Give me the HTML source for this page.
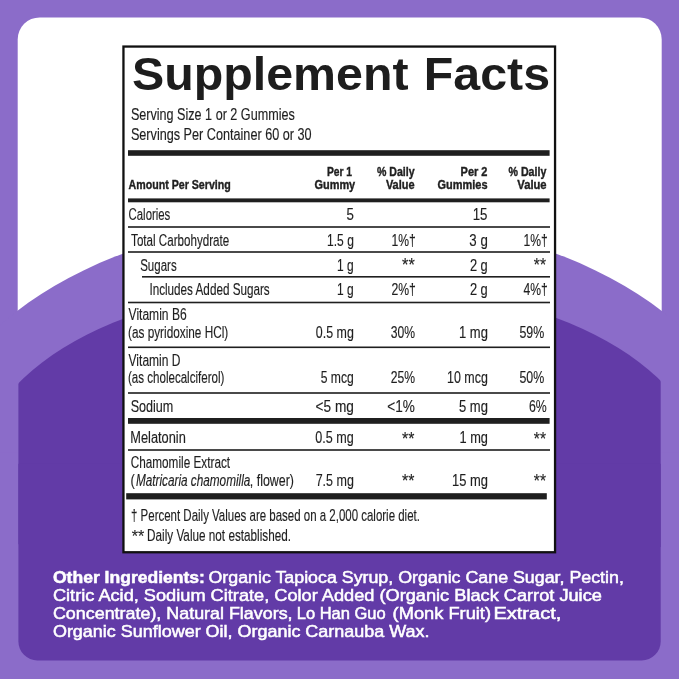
<!DOCTYPE html>
<html lang="en">
<head>
<meta charset="utf-8">
<title>Supplement Facts</title>
<style>
html,body{margin:0;padding:0;background:#8b6cc9;}
body{width:679px;height:679px;overflow:hidden;}
svg{display:block;}
text{font-family:"Liberation Sans",sans-serif;fill:#1f1f1f;white-space:pre;}
.b{font-weight:bold;}
.i{font-style:italic;}
</style>
</head>
<body>
<svg width="679" height="679" viewBox="0 0 679 679">
<rect width="679" height="679" fill="#8b6cc9"/>
<defs><clipPath id="card"><rect x="18.4" y="17.5" width="642.3" height="642.9" rx="19" ry="19"/></clipPath></defs>
<rect x="17.7" y="17.4" width="644" height="643" rx="22" ry="22" fill="#fff"/>
<ellipse cx="339.5" cy="452.1" rx="402.7" ry="235.4" fill="#8b6cc9"/><rect x="0" y="452.1" width="679" height="230" fill="#8b6cc9"/>
<g clip-path="url(#card)"><ellipse cx="340.8" cy="463.8" rx="359.2" ry="182.35" fill="#623ba7"/><rect x="0" y="463.8" width="679" height="220" fill="#623ba7"/></g>
<rect x="123.45" y="46.55" width="431.6" height="505.7" fill="#fff" stroke="#111" stroke-width="2.3"/>
<rect x="128" y="150.2" width="421.60" height="5.60" fill="#1f1f1f"/>
<rect x="128" y="198.4" width="421.60" height="3.90" fill="#1f1f1f"/>
<rect x="128" y="226.2" width="422.00" height="1.60" fill="#1f1f1f"/>
<rect x="128" y="251.2" width="422.00" height="1.60" fill="#1f1f1f"/>
<rect x="142" y="276.0" width="408.00" height="1.60" fill="#1f1f1f"/>
<rect x="128" y="301.7" width="422.00" height="1.60" fill="#1f1f1f"/>
<rect x="128" y="346.5" width="422.00" height="1.60" fill="#1f1f1f"/>
<rect x="128" y="392.2" width="422.00" height="1.60" fill="#1f1f1f"/>
<rect x="128" y="449.2" width="422.00" height="1.60" fill="#1f1f1f"/>
<rect x="128" y="418" width="421.60" height="5.80" fill="#1f1f1f"/>
<rect x="126.2" y="493.2" width="420.60" height="6.20" fill="#1f1f1f"/>
<g>
<text class="b" font-size="46" transform="translate(132.09 90.00) scale(1.0501 1.0000)" style="fill:#1d1d1d">Supplement</text>
<text class="b" font-size="46" transform="translate(423.85 90.00) scale(1.0499 1.0000)" style="fill:#1d1d1d">Facts</text>
<text class="r" font-size="15.8" transform="translate(130.90 119.80) scale(0.7980 1.0000)" style="stroke:#1f1f1f;stroke-width:0.15">Serving Size 1 or 2 Gummies</text>
<text class="r" font-size="15.8" transform="translate(130.90 140.00) scale(0.8016 1.0000)" style="stroke:#1f1f1f;stroke-width:0.15">Servings Per Container 60 or 30</text>
<text class="b" font-size="12.7" transform="translate(128.54 188.75) scale(0.8385 1.0000)" style="stroke:#1f1f1f;stroke-width:0.4">Amount Per Serving</text>
<text class="b" font-size="12.7" transform="translate(326.89 175.60) scale(0.8100 1.0000)" style="stroke:#1f1f1f;stroke-width:0.4">Per 1</text>
<text class="b" font-size="12.7" transform="translate(314.47 188.70) scale(0.8624 1.0000)" style="stroke:#1f1f1f;stroke-width:0.4">Gummy</text>
<text class="b" font-size="12.7" transform="translate(376.99 175.60) scale(0.8335 1.0000)" style="stroke:#1f1f1f;stroke-width:0.4">% Daily</text>
<text class="b" font-size="12.7" transform="translate(385.88 188.70) scale(0.8646 1.0000)" style="stroke:#1f1f1f;stroke-width:0.4">Value</text>
<text class="b" font-size="12.7" transform="translate(460.60 175.60) scale(0.8655 1.0000)" style="stroke:#1f1f1f;stroke-width:0.4">Per 2</text>
<text class="b" font-size="12.7" transform="translate(437.57 188.70) scale(0.8634 1.0000)" style="stroke:#1f1f1f;stroke-width:0.4">Gummies</text>
<text class="b" font-size="12.7" transform="translate(508.54 175.60) scale(0.8380 1.0000)" style="stroke:#1f1f1f;stroke-width:0.4">% Daily</text>
<text class="b" font-size="12.7" transform="translate(517.28 188.70) scale(0.8846 1.0000)" style="stroke:#1f1f1f;stroke-width:0.4">Value</text>
<text class="r" font-size="15.8" transform="translate(128.56 219.70) scale(0.7207 1.0000)" style="stroke:#1f1f1f;stroke-width:0.15">Calories</text>
<text class="r" font-size="15.8" transform="translate(346.57 219.70) scale(0.8414 1.0000)" style="stroke:#1f1f1f;stroke-width:0.15">5</text>
<text class="r" font-size="15.8" transform="translate(472.70 219.70) scale(0.8413 1.0000)" style="stroke:#1f1f1f;stroke-width:0.15">15</text>
<text class="r" font-size="15.8" transform="translate(131.07 245.50) scale(0.7358 1.0000)" style="stroke:#1f1f1f;stroke-width:0.15">Total Carbohydrate</text>
<text class="r" font-size="15.8" transform="translate(327.05 245.50) scale(0.7634 1.0000)" style="stroke:#1f1f1f;stroke-width:0.15">1.5 g</text>
<text class="r" font-size="15.8" transform="translate(391.54 245.50) scale(0.7692 1.0000)" style="stroke:#1f1f1f;stroke-width:0.15">1%†</text>
<text class="r" font-size="15.8" transform="translate(469.37 245.50) scale(0.8395 1.0000)" style="stroke:#1f1f1f;stroke-width:0.15">3 g</text>
<text class="r" font-size="15.8" transform="translate(523.54 245.50) scale(0.7692 1.0000)" style="stroke:#1f1f1f;stroke-width:0.15">1%†</text>
<text class="r" font-size="15.8" transform="translate(140.20 270.50) scale(0.7282 1.0000)" style="stroke:#1f1f1f;stroke-width:0.15">Sugars</text>
<text class="r" font-size="15.8" transform="translate(337.05 270.50) scale(0.7595 1.0000)" style="stroke:#1f1f1f;stroke-width:0.15">1 g</text>
<text class="r" font-size="20" transform="translate(402.09 271.03) scale(0.8136 0.8929)" style="stroke:#1f1f1f;stroke-width:0.15">**</text>
<text class="r" font-size="15.8" transform="translate(469.89 270.50) scale(0.8148 1.0000)" style="stroke:#1f1f1f;stroke-width:0.15">2 g</text>
<text class="r" font-size="20" transform="translate(533.86 271.03) scale(0.7797 0.8929)" style="stroke:#1f1f1f;stroke-width:0.15">**</text>
<text class="r" font-size="15.8" transform="translate(149.39 295.20) scale(0.7414 1.0000)" style="stroke:#1f1f1f;stroke-width:0.15">Includes Added Sugars</text>
<text class="r" font-size="15.8" transform="translate(337.05 295.20) scale(0.7595 1.0000)" style="stroke:#1f1f1f;stroke-width:0.15">1 g</text>
<text class="r" font-size="15.8" transform="translate(391.42 295.20) scale(0.7731 1.0000)" style="stroke:#1f1f1f;stroke-width:0.15">2%†</text>
<text class="r" font-size="15.8" transform="translate(469.89 295.20) scale(0.8148 1.0000)" style="stroke:#1f1f1f;stroke-width:0.15">2 g</text>
<text class="r" font-size="15.8" transform="translate(523.56 295.20) scale(0.7686 1.0000)" style="stroke:#1f1f1f;stroke-width:0.15">4%†</text>
<text class="r" font-size="15.8" transform="translate(128.56 320.20) scale(0.7641 1.0000)" style="stroke:#1f1f1f;stroke-width:0.15">Vitamin B6</text>
<text class="r" font-size="15.8" transform="translate(128.00 337.50) scale(0.7467 1.0000)" style="stroke:#1f1f1f;stroke-width:0.15">(as pyridoxine HCl)</text>
<text class="r" font-size="15.8" transform="translate(315.86 337.50) scale(0.7861 1.0000)" style="stroke:#1f1f1f;stroke-width:0.15">0.5 mg</text>
<text class="r" font-size="15.8" transform="translate(390.67 337.50) scale(0.7686 1.0000)" style="stroke:#1f1f1f;stroke-width:0.15">30%</text>
<text class="r" font-size="15.8" transform="translate(458.97 337.50) scale(0.8244 1.0000)" style="stroke:#1f1f1f;stroke-width:0.15">1 mg</text>
<text class="r" font-size="15.8" transform="translate(519.41 337.50) scale(0.7851 1.0000)" style="stroke:#1f1f1f;stroke-width:0.15">59%</text>
<text class="r" font-size="15.8" transform="translate(128.56 366.00) scale(0.7621 1.0000)" style="stroke:#1f1f1f;stroke-width:0.15">Vitamin D</text>
<text class="r" font-size="15.8" transform="translate(128.02 382.70) scale(0.7322 1.0000)" style="stroke:#1f1f1f;stroke-width:0.15">(as cholecalciferol)</text>
<text class="r" font-size="15.8" transform="translate(320.67 383.00) scale(0.7697 1.0000)" style="stroke:#1f1f1f;stroke-width:0.15">5 mcg</text>
<text class="r" font-size="15.8" transform="translate(390.67 383.00) scale(0.7686 1.0000)" style="stroke:#1f1f1f;stroke-width:0.15">25%</text>
<text class="r" font-size="15.8" transform="translate(447.02 383.00) scale(0.7879 1.0000)" style="stroke:#1f1f1f;stroke-width:0.15">10 mcg</text>
<text class="r" font-size="15.8" transform="translate(519.41 383.00) scale(0.7851 1.0000)" style="stroke:#1f1f1f;stroke-width:0.15">50%</text>
<text class="r" font-size="15.8" transform="translate(130.65 411.60) scale(0.7971 1.0000)" style="stroke:#1f1f1f;stroke-width:0.15">Sodium</text>
<text class="r" font-size="15.8" transform="translate(315.60 411.60) scale(0.8647 1.0000)" style="stroke:#1f1f1f;stroke-width:0.15">&lt;5 mg</text>
<text class="r" font-size="15.8" transform="translate(387.35 411.60) scale(0.8618 1.0000)" style="stroke:#1f1f1f;stroke-width:0.15">&lt;1%</text>
<text class="r" font-size="15.8" transform="translate(458.88 411.60) scale(0.8271 1.0000)" style="stroke:#1f1f1f;stroke-width:0.15">5 mg</text>
<text class="r" font-size="15.8" transform="translate(528.92 411.60) scale(0.7791 1.0000)" style="stroke:#1f1f1f;stroke-width:0.15">6%</text>
<text class="r" font-size="15.8" transform="translate(130.24 443.00) scale(0.8113 1.0000)" style="stroke:#1f1f1f;stroke-width:0.15">Melatonin</text>
<text class="r" font-size="15.8" transform="translate(315.35 443.00) scale(0.7968 1.0000)" style="stroke:#1f1f1f;stroke-width:0.15">0.5 mg</text>
<text class="r" font-size="20" transform="translate(402.10 444.78) scale(0.7966 0.8929)" style="stroke:#1f1f1f;stroke-width:0.15">**</text>
<text class="r" font-size="15.8" transform="translate(459.49 443.00) scale(0.8092 1.0000)" style="stroke:#1f1f1f;stroke-width:0.15">1 mg</text>
<text class="r" font-size="20" transform="translate(533.86 444.78) scale(0.7797 0.8929)" style="stroke:#1f1f1f;stroke-width:0.15">**</text>
<text class="r" font-size="15.8" transform="translate(130.69 468.00) scale(0.7453 1.0000)" style="stroke:#1f1f1f;stroke-width:0.15">Chamomile Extract</text>
<text class="r" font-size="15.8" transform="translate(130.44 485.50) scale(0.8125 1.0000)" style="stroke:#1f1f1f;stroke-width:0.15">(</text>
<text class="i" font-size="15.8" transform="translate(135.88 485.50) scale(0.7459 1.0000)" style="stroke:#1f1f1f;stroke-width:0.15">Matricaria chamomilla</text>
<text class="r" font-size="15.8" transform="translate(249.82 485.50) scale(0.7860 1.0000)" style="stroke:#1f1f1f;stroke-width:0.15">, flower)</text>
<text class="r" font-size="15.8" transform="translate(315.66 485.50) scale(0.7903 1.0000)" style="stroke:#1f1f1f;stroke-width:0.15">7.5 mg</text>
<text class="r" font-size="20" transform="translate(402.10 487.28) scale(0.7966 0.8929)" style="stroke:#1f1f1f;stroke-width:0.15">**</text>
<text class="r" font-size="15.8" transform="translate(451.98 485.50) scale(0.8193 1.0000)" style="stroke:#1f1f1f;stroke-width:0.15">15 mg</text>
<text class="r" font-size="20" transform="translate(533.86 487.28) scale(0.7797 0.8929)" style="stroke:#1f1f1f;stroke-width:0.15">**</text>
<text class="r" font-size="15.8" transform="translate(131.02 520.75) scale(0.7278 1.0000)" style="stroke:#1f1f1f;stroke-width:0.15">† Percent Daily Values are based on a 2,000 calorie diet.</text>
<text class="r" font-size="20" transform="translate(131.70 542.39) scale(0.8068 0.8571)" style="stroke:#1f1f1f;stroke-width:0.15">**</text>
<text class="r" font-size="15.8" transform="translate(147.07 541.30) scale(0.7435 1.0000)" style="stroke:#1f1f1f;stroke-width:0.15">Daily Value not established.</text>
<text class="b" font-size="16" transform="translate(52.93 582.60) scale(1.0971 1.0000)" style="fill:#fff;stroke:#fff;stroke-width:0.5">Other Ingredients:</text>
<text class="r" font-size="16" transform="translate(208.46 582.60) scale(1.1137 1.0000)" style="fill:#fff;stroke:#fff;stroke-width:0.5">Organic Tapioca Syrup, Organic Cane Sugar, Pectin,</text>
<text class="r" font-size="16" transform="translate(52.90 601.00) scale(1.1377 1.0000)" style="fill:#fff;stroke:#fff;stroke-width:0.5">Citric Acid, Sodium Citrate, Color Added (Organic Black Carrot Juice</text>
<text class="r" font-size="16" transform="translate(52.91 619.40) scale(1.1190 1.0000)" style="fill:#fff;stroke:#fff;stroke-width:0.5">Concentrate), Natural Flavors,</text>
<text class="r" font-size="16" transform="translate(296.71 619.40) scale(1.0326 1.0000)" style="fill:#fff;stroke:#fff;stroke-width:0.5">Lo Han Guo</text>
<text class="r" font-size="16" transform="translate(392.61 619.40) scale(1.1424 1.0000)" style="fill:#fff;stroke:#fff;stroke-width:0.5">(Monk Fruit)</text>
<text class="r" font-size="16" transform="translate(493.43 619.40) scale(1.2524 1.0000)" style="fill:#fff;stroke:#fff;stroke-width:0.5">Extract,</text>
<text class="r" font-size="16" transform="translate(52.91 637.40) scale(1.1230 1.0000)" style="fill:#fff;stroke:#fff;stroke-width:0.5">Organic Sunflower Oil, Organic Carnauba Wax.</text>
</g>
</svg>
</body>
</html>
